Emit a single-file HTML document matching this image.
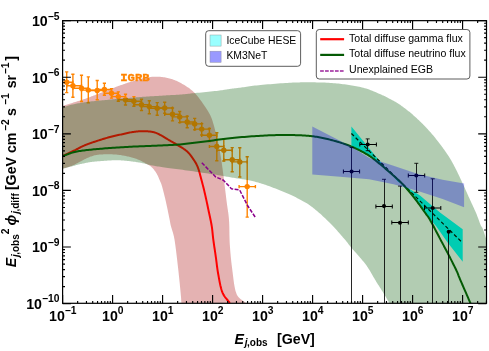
<!DOCTYPE html>
<html><head><meta charset="utf-8"><title>Diffuse flux</title>
<style>html,body{margin:0;padding:0;background:#fff;}svg{display:block;will-change:transform;}</style></head>
<body>
<svg width="489" height="351" viewBox="0 0 489 351">
<rect width="489" height="351" fill="#fff"/>
<defs><clipPath id="c"><rect x="62.6" y="20.65" width="423.9" height="282.65000000000003"/></clipPath></defs>
<g clip-path="url(#c)">
<path d="M62.40,106.00 L63.22,105.74 L64.02,105.49 L64.82,105.24 L65.61,105.00 L66.41,104.75 L67.21,104.50 L68.01,104.25 L68.83,103.99 L69.66,103.73 L70.52,103.46 L71.39,103.19 L72.30,102.90 L73.24,102.61 L74.20,102.30 L75.19,102.00 L76.19,101.69 L77.22,101.37 L78.25,101.04 L79.29,100.72 L80.34,100.38 L81.39,100.04 L82.43,99.70 L83.47,99.35 L84.50,99.00 L85.52,98.64 L86.55,98.28 L87.57,97.90 L88.60,97.53 L89.62,97.14 L90.65,96.76 L91.68,96.37 L92.70,95.97 L93.73,95.58 L94.75,95.19 L95.78,94.79 L96.80,94.40 L97.82,94.01 L98.84,93.61 L99.85,93.21 L100.87,92.81 L101.89,92.40 L102.90,92.00 L103.91,91.60 L104.93,91.19 L105.95,90.79 L106.96,90.39 L107.98,89.99 L109.00,89.60 L110.02,89.21 L111.04,88.82 L112.07,88.42 L113.09,88.03 L114.12,87.64 L115.14,87.26 L116.17,86.87 L117.20,86.49 L118.22,86.11 L119.25,85.74 L120.27,85.37 L121.30,85.00 L122.33,84.64 L123.36,84.28 L124.40,83.92 L125.43,83.56 L126.47,83.21 L127.51,82.86 L128.54,82.51 L129.57,82.17 L130.59,81.84 L131.60,81.52 L132.61,81.21 L133.60,80.90 L134.58,80.60 L135.55,80.30 L136.50,80.01 L137.44,79.72 L138.38,79.44 L139.32,79.16 L140.25,78.90 L141.19,78.65 L142.13,78.41 L143.08,78.19 L144.03,77.99 L145.00,77.80 L145.98,77.63 L146.96,77.47 L147.95,77.32 L148.94,77.18 L149.93,77.06 L150.93,76.95 L151.93,76.86 L152.94,76.79 L153.95,76.73 L154.96,76.70 L155.98,76.69 L157.00,76.70 L158.03,76.73 L159.06,76.78 L160.11,76.85 L161.16,76.94 L162.21,77.05 L163.26,77.18 L164.32,77.32 L165.37,77.49 L166.41,77.68 L167.45,77.90 L168.48,78.14 L169.50,78.40 L170.51,78.68 L171.50,78.99 L172.49,79.31 L173.47,79.66 L174.44,80.03 L175.41,80.42 L176.38,80.83 L177.36,81.27 L178.33,81.74 L179.31,82.23 L180.30,82.75 L181.30,83.30 L182.32,83.88 L183.35,84.48 L184.40,85.10 L185.46,85.76 L186.52,86.43 L187.58,87.14 L188.63,87.87 L189.67,88.62 L190.69,89.40 L191.69,90.21 L192.66,91.04 L193.60,91.90 L194.51,92.80 L195.41,93.74 L196.28,94.72 L197.14,95.73 L197.98,96.77 L198.81,97.83 L199.61,98.89 L200.40,99.97 L201.18,101.05 L201.93,102.11 L202.68,103.17 L203.40,104.20 L204.11,105.21 L204.80,106.21 L205.48,107.20 L206.15,108.18 L206.80,109.16 L207.43,110.14 L208.04,111.14 L208.63,112.14 L209.20,113.17 L209.76,114.22 L210.29,115.29 L210.80,116.40 L211.29,117.56 L211.76,118.79 L212.20,120.06 L212.63,121.36 L213.04,122.69 L213.43,124.01 L213.80,125.33 L214.15,126.61 L214.48,127.86 L214.80,129.05 L215.11,130.17 L215.40,131.20 L215.67,132.14 L215.91,133.00 L216.12,133.79 L216.32,134.53 L216.50,135.23 L216.66,135.90 L216.82,136.55 L216.97,137.20 L217.12,137.86 L217.27,138.53 L217.43,139.24 L217.60,140.00 L217.77,140.78 L217.94,141.57 L218.11,142.37 L218.28,143.17 L218.45,143.98 L218.61,144.80 L218.78,145.63 L218.94,146.47 L219.10,147.33 L219.27,148.20 L219.43,149.09 L219.60,150.00 L219.77,150.92 L219.93,151.85 L220.10,152.79 L220.27,153.75 L220.43,154.72 L220.60,155.70 L220.77,156.70 L220.93,157.72 L221.10,158.76 L221.27,159.81 L221.43,160.90 L221.60,162.00 L221.76,163.10 L221.92,164.19 L222.08,165.28 L222.23,166.37 L222.38,167.48 L222.54,168.62 L222.70,169.80 L222.86,171.04 L223.03,172.35 L223.21,173.74 L223.40,175.22 L223.60,176.80 L223.82,178.52 L224.05,180.39 L224.29,182.38 L224.55,184.46 L224.81,186.61 L225.08,188.81 L225.34,191.01 L225.61,193.20 L225.87,195.36 L226.12,197.44 L226.37,199.43 L226.60,201.30 L226.83,203.04 L227.05,204.69 L227.28,206.25 L227.50,207.75 L227.72,209.21 L227.94,210.65 L228.14,212.09 L228.34,213.55 L228.53,215.05 L228.70,216.61 L228.86,218.26 L229.00,220.00 L229.12,221.84 L229.21,223.75 L229.28,225.71 L229.33,227.73 L229.37,229.79 L229.40,231.88 L229.43,233.99 L229.47,236.11 L229.53,238.23 L229.59,240.34 L229.68,242.44 L229.80,244.50 L229.94,246.55 L230.09,248.60 L230.25,250.65 L230.41,252.70 L230.60,254.75 L230.79,256.80 L230.99,258.85 L231.21,260.90 L231.44,262.95 L231.68,265.00 L231.93,267.05 L232.20,269.10 L232.47,271.19 L232.74,273.36 L233.00,275.59 L233.28,277.83 L233.56,280.08 L233.87,282.30 L234.20,284.47 L234.56,286.56 L234.95,288.54 L235.38,290.39 L235.87,292.09 L236.40,293.60 L237.00,294.91 L237.65,296.04 L238.37,297.01 L239.12,297.85 L239.91,298.59 L240.73,299.24 L241.57,299.85 L242.41,300.43 L243.26,301.00 L244.09,301.61 L244.91,302.26 L245.70,303.00 L181.40,303.00 L181.35,302.26 L181.30,301.61 L181.27,301.00 L181.23,300.43 L181.20,299.85 L181.16,299.24 L181.12,298.59 L181.07,297.85 L181.00,297.01 L180.92,296.04 L180.82,294.91 L180.70,293.60 L180.56,292.10 L180.40,290.45 L180.23,288.65 L180.04,286.74 L179.85,284.72 L179.64,282.61 L179.42,280.43 L179.19,278.20 L178.95,275.93 L178.71,273.65 L178.46,271.36 L178.20,269.10 L177.93,266.77 L177.65,264.29 L177.36,261.70 L177.05,259.05 L176.74,256.36 L176.42,253.67 L176.10,251.02 L175.77,248.44 L175.45,245.97 L175.12,243.65 L174.81,241.52 L174.50,239.60 L174.19,237.89 L173.87,236.34 L173.54,234.94 L173.21,233.66 L172.89,232.50 L172.56,231.43 L172.25,230.43 L171.94,229.49 L171.65,228.60 L171.38,227.73 L171.13,226.87 L170.90,226.00 L170.71,225.19 L170.55,224.51 L170.43,223.92 L170.32,223.41 L170.23,222.93 L170.15,222.48 L170.07,222.00 L169.98,221.49 L169.87,220.91 L169.75,220.24 L169.59,219.45 L169.40,218.50 L169.17,217.40 L168.92,216.17 L168.65,214.82 L168.36,213.39 L168.05,211.89 L167.74,210.35 L167.41,208.78 L167.09,207.21 L166.76,205.65 L166.43,204.13 L166.11,202.68 L165.80,201.30 L165.49,199.96 L165.17,198.60 L164.84,197.24 L164.51,195.88 L164.18,194.54 L163.86,193.23 L163.53,191.96 L163.22,190.74 L162.91,189.58 L162.63,188.50 L162.35,187.50 L162.10,186.60 L161.87,185.82 L161.68,185.16 L161.50,184.60 L161.35,184.13 L161.20,183.71 L161.06,183.34 L160.92,183.00 L160.77,182.65 L160.61,182.29 L160.44,181.89 L160.23,181.43 L160.00,180.90 L159.74,180.30 L159.47,179.65 L159.18,178.98 L158.88,178.27 L158.56,177.55 L158.24,176.82 L157.90,176.09 L157.56,175.37 L157.20,174.66 L156.84,173.97 L156.47,173.32 L156.10,172.70 L155.72,172.11 L155.32,171.53 L154.91,170.96 L154.49,170.40 L154.06,169.86 L153.63,169.33 L153.19,168.82 L152.74,168.33 L152.30,167.86 L151.86,167.42 L151.43,167.00 L151.00,166.60 L150.58,166.24 L150.19,165.92 L149.80,165.64 L149.41,165.38 L149.03,165.15 L148.64,164.93 L148.24,164.71 L147.83,164.50 L147.39,164.28 L146.93,164.04 L146.43,163.78 L145.90,163.50 L145.33,163.19 L144.74,162.86 L144.11,162.52 L143.47,162.17 L142.80,161.81 L142.12,161.44 L141.42,161.08 L140.70,160.72 L139.96,160.37 L139.22,160.03 L138.46,159.71 L137.70,159.40 L136.92,159.11 L136.12,158.82 L135.29,158.54 L134.45,158.27 L133.59,158.01 L132.72,157.75 L131.85,157.50 L130.97,157.26 L130.10,157.03 L129.22,156.81 L128.36,156.60 L127.50,156.40 L126.65,156.21 L125.80,156.03 L124.95,155.85 L124.10,155.69 L123.26,155.53 L122.41,155.39 L121.56,155.25 L120.71,155.12 L119.86,155.00 L119.01,154.89 L118.15,154.79 L117.30,154.70 L116.44,154.62 L115.59,154.55 L114.73,154.49 L113.87,154.43 L113.01,154.39 L112.15,154.36 L111.29,154.33 L110.43,154.31 L109.57,154.30 L108.71,154.29 L107.86,154.29 L107.00,154.30 L106.14,154.31 L105.27,154.32 L104.40,154.34 L103.52,154.36 L102.64,154.38 L101.77,154.42 L100.90,154.46 L100.05,154.52 L99.21,154.59 L98.38,154.68 L97.58,154.78 L96.80,154.90 L96.05,155.04 L95.32,155.19 L94.61,155.35 L93.92,155.53 L93.24,155.73 L92.57,155.93 L91.92,156.15 L91.26,156.38 L90.60,156.62 L89.94,156.87 L89.28,157.13 L88.60,157.40 L87.92,157.69 L87.23,157.99 L86.55,158.31 L85.86,158.65 L85.18,158.99 L84.49,159.35 L83.81,159.71 L83.13,160.07 L82.44,160.44 L81.76,160.80 L81.08,161.15 L80.40,161.50 L79.73,161.84 L79.07,162.19 L78.41,162.55 L77.76,162.90 L77.11,163.25 L76.46,163.61 L75.80,163.96 L75.13,164.30 L74.45,164.64 L73.75,164.97 L73.04,165.29 L72.30,165.60 L71.54,165.90 L70.75,166.19 L69.95,166.46 L69.13,166.73 L68.30,167.00 L67.46,167.26 L66.62,167.51 L65.77,167.77 L64.92,168.02 L64.07,168.28 L63.23,168.54 L62.40,168.80Z" fill="#b22222" fill-opacity="0.35"/>
<path d="M62.40,156.20 L63.43,155.71 L64.48,155.21 L65.53,154.70 L66.59,154.20 L67.65,153.69 L68.71,153.19 L69.75,152.69 L70.79,152.19 L71.80,151.70 L72.79,151.23 L73.76,150.76 L74.70,150.30 L75.60,149.86 L76.45,149.42 L77.27,148.99 L78.06,148.57 L78.83,148.16 L79.60,147.76 L80.37,147.36 L81.14,146.96 L81.93,146.57 L82.75,146.18 L83.60,145.79 L84.50,145.40 L85.44,145.01 L86.41,144.63 L87.40,144.25 L88.42,143.87 L89.45,143.50 L90.50,143.12 L91.56,142.76 L92.61,142.40 L93.67,142.04 L94.73,141.69 L95.77,141.34 L96.80,141.00 L97.82,140.66 L98.84,140.33 L99.85,140.01 L100.87,139.69 L101.89,139.37 L102.90,139.06 L103.91,138.75 L104.93,138.45 L105.95,138.15 L106.96,137.86 L107.98,137.58 L109.00,137.30 L110.02,137.03 L111.04,136.77 L112.07,136.51 L113.09,136.26 L114.12,136.01 L115.14,135.78 L116.17,135.54 L117.20,135.31 L118.22,135.08 L119.25,134.85 L120.27,134.63 L121.30,134.40 L122.33,134.17 L123.38,133.94 L124.43,133.70 L125.49,133.47 L126.55,133.24 L127.61,133.01 L128.65,132.79 L129.69,132.59 L130.70,132.39 L131.69,132.21 L132.66,132.04 L133.60,131.90 L134.50,131.77 L135.38,131.66 L136.22,131.56 L137.05,131.47 L137.86,131.40 L138.65,131.34 L139.44,131.29 L140.22,131.25 L141.00,131.22 L141.79,131.20 L142.59,131.20 L143.40,131.20 L144.23,131.21 L145.07,131.23 L145.93,131.26 L146.79,131.30 L147.65,131.36 L148.51,131.42 L149.35,131.50 L150.19,131.59 L151.01,131.69 L151.80,131.81 L152.57,131.95 L153.30,132.10 L154.00,132.27 L154.67,132.46 L155.31,132.67 L155.92,132.89 L156.52,133.13 L157.11,133.38 L157.68,133.64 L158.26,133.92 L158.83,134.20 L159.41,134.49 L160.00,134.79 L160.60,135.10 L161.21,135.42 L161.81,135.74 L162.41,136.09 L163.01,136.44 L163.61,136.80 L164.21,137.17 L164.81,137.55 L165.43,137.93 L166.05,138.32 L166.68,138.71 L167.33,139.10 L168.00,139.50 L168.68,139.90 L169.37,140.29 L170.08,140.70 L170.79,141.10 L171.52,141.51 L172.25,141.92 L172.99,142.35 L173.74,142.78 L174.50,143.22 L175.26,143.67 L176.03,144.13 L176.80,144.60 L177.59,145.08 L178.42,145.58 L179.26,146.09 L180.13,146.60 L180.99,147.12 L181.86,147.66 L182.72,148.20 L183.56,148.74 L184.38,149.30 L185.16,149.86 L185.91,150.43 L186.60,151.00 L187.25,151.58 L187.86,152.16 L188.43,152.75 L188.98,153.35 L189.50,153.95 L190.01,154.56 L190.49,155.18 L190.96,155.81 L191.43,156.44 L191.88,157.09 L192.34,157.74 L192.80,158.40 L193.26,159.06 L193.71,159.72 L194.15,160.38 L194.58,161.04 L195.00,161.71 L195.41,162.39 L195.82,163.09 L196.21,163.81 L196.60,164.56 L196.97,165.34 L197.34,166.15 L197.70,167.00 L198.05,167.89 L198.37,168.81 L198.69,169.76 L198.99,170.74 L199.29,171.74 L199.57,172.77 L199.86,173.82 L200.14,174.89 L200.42,175.97 L200.71,177.07 L201.00,178.18 L201.30,179.30 L201.60,180.43 L201.91,181.58 L202.22,182.75 L202.53,183.93 L202.83,185.13 L203.14,186.34 L203.45,187.58 L203.76,188.83 L204.07,190.09 L204.38,191.38 L204.69,192.68 L205.00,194.00 L205.31,195.35 L205.62,196.75 L205.94,198.18 L206.26,199.64 L206.58,201.12 L206.89,202.60 L207.21,204.08 L207.52,205.56 L207.82,207.02 L208.12,208.45 L208.42,209.85 L208.70,211.20 L208.98,212.52 L209.26,213.81 L209.53,215.07 L209.80,216.32 L210.07,217.55 L210.33,218.77 L210.58,219.97 L210.83,221.17 L211.06,222.35 L211.29,223.54 L211.50,224.72 L211.70,225.90 L211.88,227.07 L212.04,228.20 L212.18,229.31 L212.30,230.41 L212.42,231.50 L212.53,232.59 L212.64,233.69 L212.75,234.81 L212.87,235.95 L213.00,237.13 L213.14,238.34 L213.30,239.60 L213.48,240.91 L213.67,242.26 L213.86,243.65 L214.07,245.07 L214.28,246.52 L214.50,247.98 L214.72,249.46 L214.94,250.94 L215.16,252.42 L215.38,253.89 L215.59,255.36 L215.80,256.80 L216.00,258.23 L216.18,259.65 L216.36,261.07 L216.54,262.49 L216.72,263.91 L216.89,265.33 L217.08,266.75 L217.27,268.18 L217.48,269.62 L217.70,271.06 L217.94,272.52 L218.20,274.00 L218.48,275.52 L218.76,277.09 L219.05,278.70 L219.35,280.33 L219.66,281.98 L219.99,283.61 L220.33,285.23 L220.70,286.80 L221.08,288.32 L221.49,289.77 L221.93,291.14 L222.40,292.40 L222.90,293.56 L223.45,294.62 L224.03,295.60 L224.63,296.51 L225.26,297.37 L225.90,298.19 L226.55,298.98 L227.21,299.76 L227.88,300.53 L228.53,301.32 L229.17,302.14 L229.80,303.00" fill="none" stroke="#ff0000" stroke-width="2" stroke-linejoin="round"/>
<g stroke="#ff8400" stroke-width="1.4" fill="#ff8400">
<path d="M66.7,71.9V92.6M65.1,71.9h3.2M65.1,92.6h3.2M60.5,82.2H72.9M60.5,80.6v3.2M72.9,80.6v3.2" fill="none"/>
<circle cx="66.7" cy="82.2" r="2.7" stroke="none"/>
<path d="M72.9,74.3V97.2M71.3,74.3h3.2M71.3,97.2h3.2M66.7,85.8H81.5M66.7,84.2v3.2M81.5,84.2v3.2" fill="none"/>
<circle cx="72.9" cy="85.8" r="2.7" stroke="none"/>
<path d="M81.5,75.2V101.5M79.9,75.2h3.2M79.9,101.5h3.2M72.9,88.3H88.3M72.9,86.7v3.2M88.3,86.7v3.2" fill="none"/>
<circle cx="81.5" cy="88.3" r="2.7" stroke="none"/>
<path d="M88.3,76.9V102.9M86.7,76.9h3.2M86.7,102.9h3.2M81.5,90.1H97.2M81.5,88.5v3.2M97.2,88.5v3.2" fill="none"/>
<circle cx="88.3" cy="90.1" r="2.7" stroke="none"/>
<path d="M97.2,80.5V99.8M95.6,80.5h3.2M95.6,99.8h3.2M88.3,90.5H104.4M88.3,88.9v3.2M104.4,88.9v3.2" fill="none"/>
<circle cx="97.2" cy="90.5" r="2.7" stroke="none"/>
<path d="M104.4,83.3V95.2M102.8,83.3h3.2M102.8,95.2h3.2M97.2,89.5H111.5M97.2,87.9v3.2M111.5,87.9v3.2" fill="none"/>
<circle cx="104.4" cy="89.5" r="2.7" stroke="none"/>
<path d="M111.5,88.6V98.1M109.9,88.6h3.2M109.9,98.1h3.2M104.4,93.3H118.3M104.4,91.7v3.2M118.3,91.7v3.2" fill="none"/>
<circle cx="111.5" cy="93.3" r="2.7" stroke="none"/>
<path d="M118.3,91.9V101.2M116.7,91.9h3.2M116.7,101.2h3.2M111.5,96.6H125.5M111.5,95.0v3.2M125.5,95.0v3.2" fill="none"/>
<circle cx="118.3" cy="96.6" r="2.7" stroke="none"/>
<path d="M125.5,94.2V105.0M123.9,94.2h3.2M123.9,105.0h3.2M118.3,99.8H133.9M118.3,98.2v3.2M133.9,98.2v3.2" fill="none"/>
<circle cx="125.5" cy="99.8" r="2.7" stroke="none"/>
<path d="M133.9,96.6V106.2M132.3,96.6h3.2M132.3,106.2h3.2M125.5,101.2H141.5M125.5,99.6v3.2M141.5,99.6v3.2" fill="none"/>
<circle cx="133.9" cy="101.2" r="2.7" stroke="none"/>
<path d="M141.5,99.3V110.5M139.9,99.3h3.2M139.9,110.5h3.2M133.9,104.8H149.3M133.9,103.2v3.2M149.3,103.2v3.2" fill="none"/>
<circle cx="141.5" cy="104.8" r="2.7" stroke="none"/>
<path d="M149.3,100.7V113.8M147.7,100.7h3.2M147.7,113.8h3.2M141.5,106.6H157.2M141.5,105.0v3.2M157.2,105.0v3.2" fill="none"/>
<circle cx="149.3" cy="106.6" r="2.7" stroke="none"/>
<path d="M157.2,102.6V115.2M155.6,102.6h3.2M155.6,115.2h3.2M149.3,108.3H164.7M149.3,106.7v3.2M164.7,106.7v3.2" fill="none"/>
<circle cx="157.2" cy="108.3" r="2.7" stroke="none"/>
<path d="M164.7,102.3V113.3M163.1,102.3h3.2M163.1,113.3h3.2M157.2,108.0H172.5M157.2,106.4v3.2M172.5,106.4v3.2" fill="none"/>
<circle cx="164.7" cy="108.0" r="2.7" stroke="none"/>
<path d="M172.5,108.0V120.9M170.9,108.0h3.2M170.9,120.9h3.2M164.7,114.3H179.7M164.7,112.7v3.2M179.7,112.7v3.2" fill="none"/>
<circle cx="172.5" cy="114.3" r="2.7" stroke="none"/>
<path d="M179.7,111.5V122.6M178.1,111.5h3.2M178.1,122.6h3.2M172.5,116.9H187.2M172.5,115.3v3.2M187.2,115.3v3.2" fill="none"/>
<circle cx="179.7" cy="116.9" r="2.7" stroke="none"/>
<path d="M187.2,116.2V127.7M185.6,116.2h3.2M185.6,127.7h3.2M179.7,122.0H194.7M179.7,120.4v3.2M194.7,120.4v3.2" fill="none"/>
<circle cx="187.2" cy="122.0" r="2.7" stroke="none"/>
<path d="M194.7,118.4V129.8M193.1,118.4h3.2M193.1,129.8h3.2M187.2,123.9H201.7M187.2,122.3v3.2M201.7,122.3v3.2" fill="none"/>
<circle cx="194.7" cy="123.9" r="2.7" stroke="none"/>
<path d="M201.7,123.6V135.0M200.1,123.6h3.2M200.1,135.0h3.2M194.7,129.1H209.4M194.7,127.5v3.2M209.4,127.5v3.2" fill="none"/>
<circle cx="201.7" cy="129.1" r="2.7" stroke="none"/>
<path d="M209.4,128.5V141.5M207.8,128.5h3.2M207.8,141.5h3.2M201.7,135.3H216.8M201.7,133.7v3.2M216.8,133.7v3.2" fill="none"/>
<circle cx="209.4" cy="135.3" r="2.7" stroke="none"/>
<path d="M216.8,132.8V160.8M215.2,132.8h3.2M215.2,160.8h3.2M209.4,146.5H223.8M209.4,144.9v3.2M223.8,144.9v3.2" fill="none"/>
<circle cx="216.8" cy="146.5" r="2.7" stroke="none"/>
<path d="M223.8,139.3V161.0M222.2,139.3h3.2M222.2,161.0h3.2M216.8,150.3H232.2M216.8,148.7v3.2M232.2,148.7v3.2" fill="none"/>
<circle cx="223.8" cy="150.3" r="2.7" stroke="none"/>
<path d="M232.2,147.6V171.7M230.6,147.6h3.2M230.6,171.7h3.2M223.8,159.8H239.8M223.8,158.2v3.2M239.8,158.2v3.2" fill="none"/>
<circle cx="232.2" cy="159.8" r="2.7" stroke="none"/>
<path d="M239.8,147.8V177.0M238.2,147.8h3.2M238.2,177.0h3.2M232.2,161.9H247.2M232.2,160.3v3.2M247.2,160.3v3.2" fill="none"/>
<circle cx="239.8" cy="161.9" r="2.7" stroke="none"/>
<path d="M247.2,156.7V217.1M245.6,156.7h3.2M245.6,217.1h3.2M239.1,186.6H255.4M239.1,185.0v3.2M255.4,185.0v3.2" fill="none"/>
<circle cx="247.2" cy="186.6" r="2.7" stroke="none"/>
</g>
<path d="M351.40,126.60 L377.90,158.90 L398.00,181.80 L420.00,195.60 L440.00,212.40 L462.70,229.30 L462.70,261.80 L447.60,242.60 L436.20,226.20 L425.80,214.20 L411.50,195.00 L397.50,180.00 L383.60,167.60 L369.30,156.20 L351.40,146.60Z" fill="#00ffff"/>
<path d="M351.40,133.50 L462.00,242.30" fill="none" stroke="#000" stroke-width="1.2" stroke-dasharray="3.6,2.4"/>
<path d="M62.40,107.50 L63.19,107.26 L63.97,107.01 L64.73,106.76 L65.49,106.51 L66.25,106.26 L67.02,106.01 L67.79,105.77 L68.59,105.52 L69.40,105.28 L70.23,105.05 L71.10,104.82 L72.00,104.60 L72.94,104.38 L73.92,104.17 L74.92,103.96 L75.95,103.76 L77.00,103.56 L78.07,103.36 L79.14,103.17 L80.23,102.99 L81.31,102.80 L82.38,102.63 L83.45,102.46 L84.50,102.30 L85.54,102.15 L86.59,102.00 L87.64,101.86 L88.69,101.73 L89.73,101.60 L90.78,101.47 L91.83,101.36 L92.87,101.24 L93.91,101.13 L94.95,101.02 L95.98,100.91 L97.00,100.80 L98.02,100.69 L99.04,100.59 L100.06,100.50 L101.07,100.40 L102.09,100.31 L103.09,100.23 L104.10,100.14 L105.09,100.05 L106.08,99.97 L107.06,99.88 L108.04,99.79 L109.00,99.70 L109.94,99.61 L110.86,99.52 L111.76,99.42 L112.64,99.33 L113.52,99.24 L114.40,99.14 L115.28,99.05 L116.18,98.96 L117.09,98.87 L118.03,98.78 L119.00,98.69 L120.00,98.60 L121.05,98.51 L122.15,98.43 L123.28,98.34 L124.44,98.26 L125.62,98.17 L126.81,98.09 L127.99,98.00 L129.17,97.92 L130.33,97.84 L131.46,97.76 L132.55,97.68 L133.60,97.60 L134.59,97.52 L135.54,97.44 L136.45,97.37 L137.33,97.29 L138.19,97.21 L139.04,97.14 L139.90,97.06 L140.76,96.99 L141.64,96.92 L142.55,96.84 L143.50,96.77 L144.50,96.70 L145.55,96.63 L146.65,96.56 L147.79,96.49 L148.96,96.42 L150.15,96.35 L151.35,96.29 L152.55,96.22 L153.74,96.16 L154.91,96.09 L156.05,96.03 L157.15,95.96 L158.20,95.90 L159.21,95.84 L160.18,95.78 L161.12,95.72 L162.04,95.66 L162.94,95.60 L163.82,95.54 L164.70,95.48 L165.57,95.42 L166.44,95.37 L167.32,95.31 L168.20,95.25 L169.10,95.20 L170.00,95.15 L170.89,95.10 L171.76,95.06 L172.63,95.02 L173.50,94.98 L174.38,94.94 L175.27,94.90 L176.17,94.86 L177.09,94.80 L178.03,94.75 L179.00,94.68 L180.00,94.60 L181.00,94.51 L181.98,94.43 L182.95,94.33 L183.93,94.23 L184.92,94.13 L185.94,94.02 L187.02,93.90 L188.15,93.78 L189.36,93.65 L190.67,93.51 L192.07,93.36 L193.60,93.20 L195.31,93.03 L197.21,92.84 L199.28,92.64 L201.46,92.42 L203.72,92.20 L206.01,91.98 L208.30,91.75 L210.54,91.52 L212.69,91.30 L214.71,91.09 L216.56,90.89 L218.20,90.70 L219.64,90.52 L220.93,90.35 L222.09,90.19 L223.15,90.03 L224.12,89.87 L225.01,89.72 L225.86,89.57 L226.67,89.43 L227.48,89.29 L228.29,89.16 L229.12,89.03 L230.00,88.90 L230.87,88.78 L231.67,88.68 L232.43,88.59 L233.15,88.50 L233.86,88.42 L234.57,88.34 L235.31,88.26 L236.10,88.17 L236.94,88.08 L237.86,87.97 L238.87,87.84 L240.00,87.70 L241.22,87.54 L242.49,87.36 L243.81,87.16 L245.19,86.96 L246.63,86.74 L248.13,86.52 L249.70,86.29 L251.33,86.07 L253.04,85.84 L254.82,85.62 L256.67,85.41 L258.60,85.20 L260.67,85.00 L262.90,84.79 L265.27,84.57 L267.74,84.36 L270.28,84.14 L272.86,83.93 L275.45,83.73 L278.00,83.53 L280.50,83.35 L282.90,83.18 L285.18,83.03 L287.30,82.90 L289.26,82.79 L291.10,82.69 L292.84,82.60 L294.50,82.53 L296.10,82.47 L297.66,82.42 L299.20,82.38 L300.74,82.35 L302.30,82.33 L303.90,82.31 L305.56,82.30 L307.30,82.30 L309.12,82.30 L311.00,82.31 L312.92,82.33 L314.87,82.36 L316.84,82.39 L318.82,82.43 L320.80,82.48 L322.76,82.54 L324.70,82.62 L326.59,82.70 L328.43,82.79 L330.20,82.90 L331.92,83.02 L333.59,83.15 L335.23,83.28 L336.83,83.43 L338.41,83.59 L339.96,83.76 L341.49,83.94 L343.00,84.13 L344.51,84.33 L346.01,84.55 L347.50,84.77 L349.00,85.00 L350.49,85.24 L351.96,85.47 L353.41,85.71 L354.85,85.96 L356.28,86.22 L357.70,86.49 L359.11,86.78 L360.53,87.09 L361.94,87.43 L363.35,87.79 L364.77,88.18 L366.20,88.60 L367.67,89.08 L369.19,89.61 L370.75,90.20 L372.33,90.81 L373.90,91.46 L375.46,92.11 L376.98,92.77 L378.45,93.41 L379.85,94.02 L381.15,94.60 L382.34,95.13 L383.40,95.60 L384.32,96.01 L385.11,96.37 L385.78,96.69 L386.36,96.98 L386.87,97.25 L387.32,97.49 L387.74,97.73 L388.15,97.96 L388.56,98.20 L388.99,98.45 L389.46,98.71 L390.00,99.00 L390.58,99.30 L391.17,99.61 L391.76,99.91 L392.36,100.22 L392.96,100.53 L393.57,100.85 L394.18,101.17 L394.79,101.50 L395.39,101.84 L396.00,102.18 L396.60,102.53 L397.20,102.90 L397.79,103.28 L398.39,103.66 L398.98,104.06 L399.57,104.46 L400.16,104.87 L400.75,105.29 L401.34,105.71 L401.93,106.14 L402.52,106.58 L403.11,107.01 L403.71,107.46 L404.30,107.90 L404.90,108.35 L405.50,108.80 L406.10,109.26 L406.70,109.72 L407.30,110.19 L407.90,110.66 L408.50,111.14 L409.10,111.62 L409.70,112.11 L410.30,112.60 L410.90,113.10 L411.50,113.60 L412.09,114.11 L412.69,114.62 L413.28,115.13 L413.87,115.65 L414.46,116.18 L415.05,116.71 L415.64,117.24 L416.23,117.78 L416.82,118.33 L417.41,118.88 L418.01,119.44 L418.60,120.00 L419.20,120.57 L419.80,121.15 L420.40,121.73 L421.00,122.31 L421.60,122.91 L422.20,123.51 L422.80,124.11 L423.40,124.72 L424.00,125.33 L424.60,125.95 L425.20,126.57 L425.80,127.20 L426.39,127.83 L426.99,128.46 L427.58,129.10 L428.17,129.74 L428.76,130.38 L429.35,131.03 L429.94,131.69 L430.53,132.35 L431.12,133.02 L431.71,133.71 L432.31,134.40 L432.90,135.10 L433.50,135.82 L434.12,136.57 L434.74,137.34 L435.37,138.12 L435.99,138.91 L436.62,139.70 L437.24,140.49 L437.84,141.27 L438.44,142.04 L439.01,142.79 L439.57,143.51 L440.10,144.20 L440.60,144.86 L441.08,145.49 L441.54,146.10 L441.98,146.69 L442.41,147.26 L442.83,147.82 L443.23,148.39 L443.64,148.95 L444.05,149.52 L444.46,150.09 L444.87,150.69 L445.30,151.30 L445.73,151.92 L446.16,152.54 L446.59,153.16 L447.01,153.77 L447.44,154.40 L447.87,155.03 L448.30,155.68 L448.73,156.34 L449.16,157.02 L449.60,157.72 L450.05,158.44 L450.50,159.20 L450.96,159.99 L451.43,160.81 L451.91,161.66 L452.39,162.54 L452.88,163.43 L453.36,164.34 L453.85,165.25 L454.33,166.17 L454.81,167.09 L455.28,168.01 L455.75,168.91 L456.20,169.80 L456.65,170.69 L457.09,171.59 L457.53,172.50 L457.97,173.41 L458.40,174.32 L458.83,175.23 L459.25,176.12 L459.66,177.00 L460.06,177.87 L460.46,178.71 L460.83,179.52 L461.20,180.30 L461.54,181.03 L461.86,181.70 L462.15,182.32 L462.43,182.92 L462.69,183.49 L462.96,184.06 L463.22,184.64 L463.50,185.24 L463.79,185.87 L464.09,186.55 L464.43,187.29 L464.80,188.10 L465.20,188.99 L465.63,189.93 L466.08,190.93 L466.54,191.97 L467.02,193.04 L467.51,194.14 L468.01,195.25 L468.51,196.38 L469.02,197.50 L469.52,198.62 L470.01,199.72 L470.50,200.80 L470.98,201.87 L471.48,202.94 L471.98,204.03 L472.48,205.11 L472.99,206.20 L473.49,207.28 L473.98,208.36 L474.47,209.43 L474.95,210.50 L475.42,211.55 L475.87,212.58 L476.30,213.60 L476.72,214.62 L477.13,215.67 L477.53,216.73 L477.93,217.79 L478.31,218.84 L478.68,219.87 L479.04,220.87 L479.39,221.83 L479.71,222.73 L480.03,223.57 L480.32,224.33 L480.60,225.00 L480.85,225.56 L481.07,225.99 L481.26,226.33 L481.43,226.59 L481.59,226.80 L481.74,226.98 L481.88,227.14 L482.02,227.32 L482.17,227.53 L482.33,227.80 L482.50,228.15 L482.70,228.60 L482.92,229.16 L483.16,229.81 L483.42,230.53 L483.68,231.31 L483.95,232.12 L484.22,232.95 L484.49,233.77 L484.75,234.58 L485.00,235.34 L485.22,236.04 L485.43,236.67 L485.60,237.20 L485.75,237.64 L485.87,238.00 L485.97,238.31 L486.05,238.56 L486.12,238.78 L486.18,238.96 L486.23,239.13 L486.27,239.28 L486.32,239.44 L486.37,239.60 L486.43,239.79 L486.50,240.00 L488.50,240.50 L488.50,305.30 L390.40,305.30 L389.60,303.40 L389.59,303.37 L389.60,303.40 L389.64,303.46 L389.69,303.54 L389.74,303.61 L389.77,303.67 L389.79,303.70 L389.78,303.67 L389.72,303.58 L389.61,303.40 L389.44,303.11 L389.20,302.70 L388.88,302.16 L388.49,301.50 L388.04,300.74 L387.54,299.90 L387.00,298.99 L386.43,298.02 L385.83,297.01 L385.21,295.99 L384.60,294.96 L383.98,293.94 L383.38,292.95 L382.80,292.00 L382.23,291.08 L381.66,290.17 L381.09,289.26 L380.51,288.36 L379.92,287.44 L379.33,286.52 L378.73,285.58 L378.13,284.63 L377.51,283.66 L376.88,282.67 L376.25,281.65 L375.60,280.60 L374.94,279.51 L374.27,278.36 L373.58,277.18 L372.89,275.96 L372.18,274.73 L371.47,273.49 L370.75,272.25 L370.03,271.01 L369.30,269.80 L368.57,268.63 L367.83,267.49 L367.10,266.40 L366.36,265.35 L365.59,264.32 L364.81,263.30 L364.02,262.31 L363.23,261.33 L362.44,260.38 L361.65,259.45 L360.88,258.55 L360.12,257.67 L359.38,256.82 L358.68,255.99 L358.00,255.20 L357.35,254.44 L356.72,253.72 L356.12,253.04 L355.53,252.39 L354.95,251.76 L354.39,251.15 L353.85,250.56 L353.32,249.98 L352.80,249.41 L352.29,248.84 L351.79,248.27 L351.30,247.70 L350.83,247.14 L350.41,246.61 L350.01,246.10 L349.64,245.61 L349.27,245.13 L348.91,244.65 L348.55,244.16 L348.16,243.65 L347.76,243.12 L347.32,242.56 L346.83,241.95 L346.30,241.30 L345.71,240.59 L345.09,239.84 L344.42,239.05 L343.73,238.23 L343.01,237.38 L342.28,236.52 L341.53,235.65 L340.77,234.77 L340.01,233.90 L339.26,233.04 L338.52,232.21 L337.80,231.40 L337.09,230.61 L336.39,229.84 L335.69,229.08 L334.99,228.32 L334.29,227.57 L333.59,226.82 L332.89,226.07 L332.17,225.33 L331.45,224.58 L330.72,223.82 L329.97,223.07 L329.20,222.30 L328.41,221.52 L327.61,220.73 L326.78,219.92 L325.94,219.11 L325.09,218.30 L324.24,217.49 L323.38,216.69 L322.53,215.90 L321.68,215.12 L320.84,214.35 L320.01,213.61 L319.20,212.90 L318.39,212.20 L317.58,211.51 L316.77,210.82 L315.95,210.15 L315.14,209.49 L314.34,208.84 L313.56,208.22 L312.79,207.62 L312.05,207.04 L311.33,206.50 L310.65,205.98 L310.00,205.50 L309.41,205.07 L308.89,204.70 L308.42,204.37 L307.99,204.08 L307.59,203.81 L307.19,203.56 L306.78,203.32 L306.35,203.07 L305.88,202.80 L305.36,202.51 L304.77,202.18 L304.10,201.80 L303.35,201.38 L302.55,200.93 L301.70,200.46 L300.81,199.97 L299.88,199.46 L298.92,198.94 L297.93,198.42 L296.91,197.89 L295.88,197.35 L294.83,196.83 L293.77,196.31 L292.70,195.80 L291.62,195.30 L290.50,194.79 L289.35,194.29 L288.18,193.78 L286.99,193.27 L285.78,192.76 L284.57,192.26 L283.34,191.76 L282.12,191.26 L280.90,190.77 L279.70,190.28 L278.50,189.80 L277.31,189.32 L276.12,188.85 L274.93,188.37 L273.74,187.90 L272.54,187.43 L271.35,186.97 L270.16,186.51 L268.96,186.07 L267.77,185.63 L266.58,185.21 L265.39,184.80 L264.20,184.40 L263.01,184.02 L261.80,183.64 L260.59,183.27 L259.37,182.91 L258.15,182.57 L256.94,182.23 L255.74,181.91 L254.55,181.60 L253.38,181.30 L252.23,181.02 L251.10,180.75 L250.00,180.50 L248.94,180.27 L247.91,180.07 L246.92,179.89 L245.95,179.73 L245.00,179.59 L244.06,179.45 L243.12,179.32 L242.17,179.19 L241.21,179.06 L240.24,178.92 L239.24,178.77 L238.20,178.60 L237.13,178.42 L236.02,178.24 L234.89,178.04 L233.74,177.85 L232.57,177.65 L231.41,177.45 L230.24,177.25 L229.09,177.05 L227.95,176.86 L226.83,176.66 L225.75,176.48 L224.70,176.30 L223.73,176.13 L222.87,175.98 L222.07,175.84 L221.32,175.70 L220.59,175.57 L219.84,175.44 L219.06,175.30 L218.21,175.15 L217.27,174.99 L216.20,174.82 L214.99,174.62 L213.60,174.40 L212.02,174.15 L210.28,173.88 L208.40,173.59 L206.40,173.28 L204.30,172.96 L202.14,172.63 L199.93,172.30 L197.69,171.96 L195.46,171.63 L193.25,171.31 L191.09,171.00 L189.00,170.70 L186.92,170.41 L184.80,170.13 L182.63,169.85 L180.46,169.57 L178.28,169.30 L176.12,169.03 L173.99,168.76 L171.92,168.50 L169.92,168.24 L168.00,167.99 L166.19,167.74 L164.50,167.50 L162.92,167.27 L161.43,167.04 L160.02,166.81 L158.69,166.60 L157.43,166.38 L156.23,166.17 L155.09,165.97 L154.00,165.77 L152.95,165.57 L151.94,165.38 L150.96,165.19 L150.00,165.00 L149.10,164.81 L148.29,164.63 L147.55,164.46 L146.87,164.28 L146.24,164.11 L145.63,163.94 L145.04,163.78 L144.45,163.62 L143.84,163.46 L143.21,163.30 L142.53,163.15 L141.80,163.00 L141.02,162.85 L140.22,162.70 L139.39,162.56 L138.55,162.41 L137.70,162.27 L136.83,162.14 L135.96,162.00 L135.08,161.87 L134.20,161.75 L133.33,161.63 L132.46,161.51 L131.60,161.40 L130.74,161.29 L129.89,161.19 L129.03,161.08 L128.17,160.99 L127.31,160.89 L126.45,160.80 L125.59,160.72 L124.73,160.64 L123.87,160.57 L123.01,160.50 L122.16,160.45 L121.30,160.40 L120.45,160.36 L119.59,160.33 L118.74,160.31 L117.89,160.30 L117.04,160.29 L116.19,160.29 L115.34,160.30 L114.50,160.31 L113.65,160.33 L112.80,160.35 L111.95,160.37 L111.10,160.40 L110.25,160.43 L109.40,160.47 L108.55,160.52 L107.70,160.57 L106.85,160.63 L106.00,160.69 L105.15,160.75 L104.30,160.82 L103.45,160.89 L102.60,160.96 L101.75,161.03 L100.90,161.10 L100.05,161.17 L99.20,161.24 L98.35,161.31 L97.50,161.37 L96.66,161.44 L95.81,161.52 L94.96,161.60 L94.11,161.68 L93.26,161.77 L92.41,161.87 L91.55,161.98 L90.70,162.10 L89.84,162.23 L88.96,162.37 L88.08,162.53 L87.19,162.69 L86.30,162.86 L85.42,163.03 L84.54,163.21 L83.67,163.39 L82.82,163.57 L81.99,163.75 L81.18,163.93 L80.40,164.10 L79.65,164.27 L78.94,164.44 L78.26,164.61 L77.60,164.77 L76.96,164.94 L76.33,165.11 L75.69,165.28 L75.05,165.46 L74.40,165.64 L73.73,165.82 L73.03,166.01 L72.30,166.20 L71.54,166.40 L70.75,166.60 L69.95,166.81 L69.13,167.03 L68.30,167.25 L67.46,167.47 L66.62,167.69 L65.77,167.91 L64.92,168.14 L64.07,168.36 L63.23,168.58 L62.40,168.80Z" fill="#005500" fill-opacity="0.30"/>
<path d="M62.40,156.20 L63.42,155.84 L64.42,155.48 L65.42,155.10 L66.41,154.73 L67.40,154.35 L68.40,153.97 L69.40,153.61 L70.42,153.25 L71.46,152.91 L72.51,152.58 L73.59,152.28 L74.70,152.00 L75.83,151.75 L76.95,151.51 L78.09,151.30 L79.24,151.10 L80.41,150.92 L81.59,150.74 L82.81,150.58 L84.05,150.42 L85.32,150.27 L86.64,150.11 L88.00,149.96 L89.40,149.80 L90.85,149.64 L92.33,149.49 L93.84,149.34 L95.39,149.19 L96.97,149.05 L98.58,148.91 L100.23,148.77 L101.91,148.63 L103.63,148.50 L105.39,148.37 L107.18,148.23 L109.00,148.10 L110.87,147.97 L112.81,147.83 L114.80,147.70 L116.83,147.57 L118.90,147.44 L120.99,147.31 L123.10,147.18 L125.21,147.06 L127.33,146.94 L129.44,146.82 L131.53,146.71 L133.60,146.60 L135.66,146.50 L137.73,146.41 L139.82,146.32 L141.90,146.24 L143.99,146.16 L146.07,146.08 L148.15,146.01 L150.21,145.93 L152.25,145.85 L154.26,145.77 L156.25,145.69 L158.20,145.60 L160.10,145.51 L161.96,145.43 L163.77,145.35 L165.56,145.28 L167.32,145.20 L169.07,145.12 L170.83,145.03 L172.60,144.93 L174.39,144.82 L176.21,144.70 L178.08,144.56 L180.00,144.40 L181.97,144.22 L183.98,144.02 L186.02,143.80 L188.10,143.57 L190.19,143.33 L192.30,143.08 L194.42,142.82 L196.55,142.56 L198.67,142.29 L200.80,142.03 L202.91,141.76 L205.00,141.50 L207.07,141.24 L209.12,140.96 L211.17,140.68 L213.20,140.39 L215.23,140.10 L217.28,139.81 L219.33,139.52 L221.40,139.24 L223.50,138.96 L225.63,138.70 L227.79,138.44 L230.00,138.20 L232.28,137.97 L234.62,137.74 L237.03,137.52 L239.48,137.31 L241.95,137.10 L244.43,136.90 L246.91,136.71 L249.36,136.53 L251.77,136.35 L254.12,136.19 L256.40,136.04 L258.60,135.90 L260.72,135.77 L262.80,135.66 L264.83,135.55 L266.82,135.45 L268.77,135.36 L270.68,135.29 L272.56,135.22 L274.40,135.16 L276.22,135.11 L278.00,135.06 L279.76,135.03 L281.50,135.00 L283.21,134.98 L284.89,134.97 L286.53,134.97 L288.15,134.98 L289.73,134.99 L291.29,135.02 L292.81,135.05 L294.31,135.09 L295.77,135.13 L297.21,135.18 L298.62,135.24 L300.00,135.30 L301.34,135.36 L302.63,135.43 L303.87,135.50 L305.08,135.57 L306.26,135.66 L307.41,135.74 L308.55,135.84 L309.69,135.95 L310.82,136.07 L311.97,136.20 L313.12,136.34 L314.30,136.50 L315.49,136.67 L316.68,136.86 L317.88,137.06 L319.07,137.27 L320.26,137.49 L321.45,137.72 L322.64,137.96 L323.83,138.21 L325.03,138.47 L326.22,138.74 L327.41,139.02 L328.60,139.30 L329.81,139.60 L331.05,139.92 L332.31,140.25 L333.58,140.60 L334.85,140.96 L336.11,141.33 L337.35,141.69 L338.56,142.05 L339.73,142.41 L340.85,142.75 L341.91,143.09 L342.90,143.40 L343.82,143.70 L344.66,143.98 L345.45,144.24 L346.19,144.50 L346.89,144.76 L347.56,145.01 L348.21,145.26 L348.84,145.51 L349.48,145.76 L350.13,146.03 L350.80,146.31 L351.50,146.60 L352.21,146.90 L352.93,147.21 L353.64,147.52 L354.34,147.83 L355.05,148.15 L355.76,148.47 L356.47,148.81 L357.19,149.15 L357.91,149.50 L358.63,149.85 L359.36,150.22 L360.10,150.60 L360.85,150.99 L361.62,151.39 L362.40,151.81 L363.20,152.24 L363.99,152.67 L364.79,153.11 L365.58,153.56 L366.36,154.01 L367.13,154.46 L367.88,154.91 L368.60,155.36 L369.30,155.80 L369.97,156.24 L370.62,156.68 L371.24,157.12 L371.85,157.57 L372.45,158.01 L373.03,158.46 L373.61,158.90 L374.18,159.36 L374.75,159.81 L375.33,160.27 L375.91,160.73 L376.50,161.20 L377.09,161.67 L377.69,162.15 L378.28,162.64 L378.87,163.12 L379.46,163.61 L380.05,164.11 L380.64,164.60 L381.23,165.10 L381.82,165.60 L382.41,166.10 L383.01,166.60 L383.60,167.10 L384.20,167.60 L384.80,168.11 L385.40,168.61 L386.01,169.12 L386.62,169.63 L387.23,170.14 L387.83,170.65 L388.43,171.16 L389.03,171.67 L389.63,172.18 L390.22,172.69 L390.80,173.20 L391.38,173.71 L391.95,174.21 L392.51,174.72 L393.08,175.23 L393.64,175.73 L394.19,176.24 L394.75,176.74 L395.30,177.25 L395.85,177.76 L396.40,178.27 L396.95,178.78 L397.50,179.30 L398.05,179.81 L398.58,180.31 L399.12,180.80 L399.64,181.30 L400.17,181.79 L400.70,182.29 L401.23,182.79 L401.77,183.31 L402.31,183.85 L402.86,184.41 L403.42,184.99 L404.00,185.60 L404.59,186.24 L405.20,186.90 L405.81,187.59 L406.44,188.30 L407.07,189.02 L407.71,189.76 L408.35,190.51 L408.99,191.27 L409.63,192.03 L410.26,192.79 L410.89,193.55 L411.50,194.30 L412.11,195.05 L412.71,195.81 L413.30,196.56 L413.89,197.33 L414.48,198.09 L415.07,198.86 L415.65,199.64 L416.24,200.42 L416.83,201.20 L417.42,202.00 L418.01,202.80 L418.60,203.60 L419.21,204.43 L419.83,205.28 L420.46,206.16 L421.10,207.05 L421.74,207.94 L422.38,208.84 L423.00,209.72 L423.61,210.59 L424.20,211.42 L424.77,212.23 L425.30,212.99 L425.80,213.70 L426.24,214.32 L426.61,214.82 L426.94,215.23 L427.22,215.59 L427.49,215.92 L427.75,216.26 L428.02,216.62 L428.32,217.06 L428.66,217.58 L429.06,218.22 L429.54,219.02 L430.10,220.00 L430.76,221.19 L431.52,222.57 L432.35,224.11 L433.24,225.78 L434.17,227.54 L435.13,229.36 L436.09,231.21 L437.05,233.04 L437.99,234.83 L438.89,236.54 L439.73,238.14 L440.50,239.60 L441.20,240.92 L441.86,242.14 L442.47,243.28 L443.06,244.36 L443.62,245.40 L444.16,246.41 L444.70,247.41 L445.24,248.42 L445.80,249.46 L446.37,250.54 L446.97,251.68 L447.60,252.90 L448.28,254.21 L449.00,255.61 L449.75,257.07 L450.52,258.58 L451.30,260.11 L452.08,261.65 L452.85,263.18 L453.60,264.68 L454.32,266.13 L455.00,267.51 L455.63,268.81 L456.20,270.00 L456.69,271.05 L457.09,271.94 L457.42,272.71 L457.71,273.40 L457.96,274.04 L458.21,274.67 L458.45,275.32 L458.73,276.02 L459.04,276.82 L459.41,277.74 L459.86,278.82 L460.40,280.10 L461.04,281.57 L461.74,283.21 L462.51,284.98 L463.33,286.86 L464.19,288.84 L465.08,290.88 L465.99,292.97 L466.91,295.08 L467.84,297.19 L468.75,299.28 L469.64,301.32 L470.50,303.30" fill="none" stroke="#045a04" stroke-width="2" stroke-linejoin="round"/>
<g stroke="#000" stroke-width="1.0" fill="#000">
<path d="M367.5,138.9V150.7M365.7,138.9h4M365.7,150.7h4" fill="none" stroke-width="0.85"/>
<path d="M359.8,144.5H376.4M359.8,142.5v4M376.4,142.5v4" fill="none"/>
<circle cx="367.7" cy="144.5" r="2.05" stroke="none"/>
<path d="M351.5,147.5V303.3M349.6,147.5h4" fill="none" stroke-width="0.85"/>
<path d="M343.4,171.5H359.6M343.4,169.5v4M359.6,169.5v4" fill="none"/>
<circle cx="351.6" cy="171.5" r="2.05" stroke="none"/>
<path d="M384.5,179.3V303.3M382.0,179.3h4" fill="none" stroke-width="0.85"/>
<path d="M375.9,206.5H392.3M375.9,204.5v4M392.3,204.5v4" fill="none"/>
<circle cx="384.0" cy="206.1" r="2.05" stroke="none"/>
<path d="M400.5,186.1V303.3M398.0,186.1h4" fill="none" stroke-width="0.85"/>
<path d="M391.8,222.5H408.3M391.8,220.5v4M408.3,220.5v4" fill="none"/>
<circle cx="400.0" cy="222.8" r="2.05" stroke="none"/>
<path d="M416.5,163.3V192.3M414.3,163.3h4M414.3,192.3h4" fill="none" stroke-width="0.85"/>
<path d="M408.3,175.5H424.7M408.3,173.5v4M424.7,173.5v4" fill="none"/>
<circle cx="416.3" cy="175.5" r="2.05" stroke="none"/>
<path d="M432.5,178.8V303.3M430.7,178.8h4" fill="none" stroke-width="0.85"/>
<path d="M424.5,208.0H440.8M424.5,206.0v4M440.8,206.0v4" fill="none"/>
<circle cx="432.7" cy="208.0" r="2.05" stroke="none"/>
<path d="M448.5,231.8V303.3" fill="none" stroke-width="0.85"/>
<circle cx="448.7" cy="231.8" r="2.05" stroke="none"/>
</g>
<path d="M312.30,126.60 L350.20,145.90 L369.00,157.70 L393.50,165.80 L418.00,173.90 L442.60,179.80 L464.10,183.60 L464.10,207.20 L442.60,198.90 L418.00,191.00 L393.50,184.20 L369.00,179.30 L340.00,176.80 L312.30,174.50Z" fill="#0000e0" fill-opacity="0.30"/>
<path d="M201.80,162.80 L215.80,177.00 L223.40,180.20 L231.60,188.90 L239.60,189.90 L247.80,206.00 L255.30,217.30" fill="none" stroke="#8b008b" stroke-width="1.5" stroke-dasharray="3.9,1.5"/>
</g>
<text transform="translate(120.2,81.4) scale(1.10,1)" style="font-family:'Liberation Mono',monospace;font-weight:bold;font-size:11.2px" fill="#ff8400" stroke="#ff8400" stroke-width="0.3">IGRB</text>
<g stroke="#000" stroke-width="1.2" fill="none">
<rect x="62.6" y="20.65" width="423.9" height="282.65000000000003"/>
<path d="M62.60,303.3v-8.3M62.60,20.65v8.3M77.65,303.3v-2.4M77.65,20.65v2.4M86.46,303.3v-2.4M86.46,20.65v2.4M92.70,303.3v-2.4M92.70,20.65v2.4M97.55,303.3v-2.4M97.55,20.65v2.4M101.51,303.3v-2.4M101.51,20.65v2.4M104.85,303.3v-2.4M104.85,20.65v2.4M107.75,303.3v-2.4M107.75,20.65v2.4M110.31,303.3v-2.4M110.31,20.65v2.4M112.60,303.3v-8.3M112.60,20.65v8.3M127.65,303.3v-2.4M127.65,20.65v2.4M136.46,303.3v-2.4M136.46,20.65v2.4M142.70,303.3v-2.4M142.70,20.65v2.4M147.55,303.3v-2.4M147.55,20.65v2.4M151.51,303.3v-2.4M151.51,20.65v2.4M154.85,303.3v-2.4M154.85,20.65v2.4M157.75,303.3v-2.4M157.75,20.65v2.4M160.31,303.3v-2.4M160.31,20.65v2.4M162.60,303.3v-8.3M162.60,20.65v8.3M177.65,303.3v-2.4M177.65,20.65v2.4M186.46,303.3v-2.4M186.46,20.65v2.4M192.70,303.3v-2.4M192.70,20.65v2.4M197.55,303.3v-2.4M197.55,20.65v2.4M201.51,303.3v-2.4M201.51,20.65v2.4M204.85,303.3v-2.4M204.85,20.65v2.4M207.75,303.3v-2.4M207.75,20.65v2.4M210.31,303.3v-2.4M210.31,20.65v2.4M212.60,303.3v-8.3M212.60,20.65v8.3M227.65,303.3v-2.4M227.65,20.65v2.4M236.46,303.3v-2.4M236.46,20.65v2.4M242.70,303.3v-2.4M242.70,20.65v2.4M247.55,303.3v-2.4M247.55,20.65v2.4M251.51,303.3v-2.4M251.51,20.65v2.4M254.85,303.3v-2.4M254.85,20.65v2.4M257.75,303.3v-2.4M257.75,20.65v2.4M260.31,303.3v-2.4M260.31,20.65v2.4M262.60,303.3v-8.3M262.60,20.65v8.3M277.65,303.3v-2.4M277.65,20.65v2.4M286.46,303.3v-2.4M286.46,20.65v2.4M292.70,303.3v-2.4M292.70,20.65v2.4M297.55,303.3v-2.4M297.55,20.65v2.4M301.51,303.3v-2.4M301.51,20.65v2.4M304.85,303.3v-2.4M304.85,20.65v2.4M307.75,303.3v-2.4M307.75,20.65v2.4M310.31,303.3v-2.4M310.31,20.65v2.4M312.60,303.3v-8.3M312.60,20.65v8.3M327.65,303.3v-2.4M327.65,20.65v2.4M336.46,303.3v-2.4M336.46,20.65v2.4M342.70,303.3v-2.4M342.70,20.65v2.4M347.55,303.3v-2.4M347.55,20.65v2.4M351.51,303.3v-2.4M351.51,20.65v2.4M354.85,303.3v-2.4M354.85,20.65v2.4M357.75,303.3v-2.4M357.75,20.65v2.4M360.31,303.3v-2.4M360.31,20.65v2.4M362.60,303.3v-8.3M362.60,20.65v8.3M377.65,303.3v-2.4M377.65,20.65v2.4M386.46,303.3v-2.4M386.46,20.65v2.4M392.70,303.3v-2.4M392.70,20.65v2.4M397.55,303.3v-2.4M397.55,20.65v2.4M401.51,303.3v-2.4M401.51,20.65v2.4M404.85,303.3v-2.4M404.85,20.65v2.4M407.75,303.3v-2.4M407.75,20.65v2.4M410.31,303.3v-2.4M410.31,20.65v2.4M412.60,303.3v-8.3M412.60,20.65v8.3M427.65,303.3v-2.4M427.65,20.65v2.4M436.46,303.3v-2.4M436.46,20.65v2.4M442.70,303.3v-2.4M442.70,20.65v2.4M447.55,303.3v-2.4M447.55,20.65v2.4M451.51,303.3v-2.4M451.51,20.65v2.4M454.85,303.3v-2.4M454.85,20.65v2.4M457.75,303.3v-2.4M457.75,20.65v2.4M460.31,303.3v-2.4M460.31,20.65v2.4M462.60,303.3v-8.3M462.60,20.65v8.3M477.65,303.3v-2.4M477.65,20.65v2.4M486.46,303.3v-2.4M486.46,20.65v2.4M62.6,303.63h8.3M486.5,303.63h-8.3M62.6,286.59h2.4M486.5,286.59h-2.4M62.6,276.62h2.4M486.5,276.62h-2.4M62.6,269.55h2.4M486.5,269.55h-2.4M62.6,264.07h2.4M486.5,264.07h-2.4M62.6,259.59h2.4M486.5,259.59h-2.4M62.6,255.80h2.4M486.5,255.80h-2.4M62.6,252.52h2.4M486.5,252.52h-2.4M62.6,249.62h2.4M486.5,249.62h-2.4M62.6,247.03h8.3M486.5,247.03h-8.3M62.6,229.99h2.4M486.5,229.99h-2.4M62.6,220.02h2.4M486.5,220.02h-2.4M62.6,212.95h2.4M486.5,212.95h-2.4M62.6,207.47h2.4M486.5,207.47h-2.4M62.6,202.99h2.4M486.5,202.99h-2.4M62.6,199.20h2.4M486.5,199.20h-2.4M62.6,195.92h2.4M486.5,195.92h-2.4M62.6,193.02h2.4M486.5,193.02h-2.4M62.6,190.43h8.3M486.5,190.43h-8.3M62.6,173.39h2.4M486.5,173.39h-2.4M62.6,163.42h2.4M486.5,163.42h-2.4M62.6,156.35h2.4M486.5,156.35h-2.4M62.6,150.87h2.4M486.5,150.87h-2.4M62.6,146.39h2.4M486.5,146.39h-2.4M62.6,142.60h2.4M486.5,142.60h-2.4M62.6,139.32h2.4M486.5,139.32h-2.4M62.6,136.42h2.4M486.5,136.42h-2.4M62.6,133.83h8.3M486.5,133.83h-8.3M62.6,116.79h2.4M486.5,116.79h-2.4M62.6,106.82h2.4M486.5,106.82h-2.4M62.6,99.75h2.4M486.5,99.75h-2.4M62.6,94.27h2.4M486.5,94.27h-2.4M62.6,89.79h2.4M486.5,89.79h-2.4M62.6,86.00h2.4M486.5,86.00h-2.4M62.6,82.72h2.4M486.5,82.72h-2.4M62.6,79.82h2.4M486.5,79.82h-2.4M62.6,77.23h8.3M486.5,77.23h-8.3M62.6,60.19h2.4M486.5,60.19h-2.4M62.6,50.22h2.4M486.5,50.22h-2.4M62.6,43.15h2.4M486.5,43.15h-2.4M62.6,37.67h2.4M486.5,37.67h-2.4M62.6,33.19h2.4M486.5,33.19h-2.4M62.6,29.40h2.4M486.5,29.40h-2.4M62.6,26.12h2.4M486.5,26.12h-2.4M62.6,23.22h2.4M486.5,23.22h-2.4M62.6,20.63h8.3M486.5,20.63h-8.3" stroke-width="1.15"/>
</g>
<g font-family="'Liberation Sans', sans-serif" font-weight="bold" fill="#000">
<text x="49.03" y="320.80" font-size="14.2">10</text>
<text x="64.72" y="314.20" font-size="10.3">−1</text>
<text x="102.04" y="320.80" font-size="14.2">10</text>
<text x="117.73" y="314.20" font-size="10.3">0</text>
<text x="152.04" y="320.80" font-size="14.2">10</text>
<text x="167.73" y="314.20" font-size="10.3">1</text>
<text x="202.04" y="320.80" font-size="14.2">10</text>
<text x="217.73" y="314.20" font-size="10.3">2</text>
<text x="252.04" y="320.80" font-size="14.2">10</text>
<text x="267.73" y="314.20" font-size="10.3">3</text>
<text x="302.04" y="320.80" font-size="14.2">10</text>
<text x="317.73" y="314.20" font-size="10.3">4</text>
<text x="352.04" y="320.80" font-size="14.2">10</text>
<text x="367.73" y="314.20" font-size="10.3">5</text>
<text x="402.04" y="320.80" font-size="14.2">10</text>
<text x="417.73" y="314.20" font-size="10.3">6</text>
<text x="452.04" y="320.80" font-size="14.2">10</text>
<text x="467.73" y="314.20" font-size="10.3">7</text>
<text x="26.24" y="308.80" font-size="14.2">10</text>
<text x="41.93" y="302.20" font-size="10.3">−10</text>
<text x="31.97" y="252.27" font-size="14.2">10</text>
<text x="47.66" y="245.67" font-size="10.3">−9</text>
<text x="31.97" y="195.74" font-size="14.2">10</text>
<text x="47.66" y="189.14" font-size="10.3">−8</text>
<text x="31.97" y="139.21" font-size="14.2">10</text>
<text x="47.66" y="132.61" font-size="10.3">−7</text>
<text x="31.97" y="82.68" font-size="14.2">10</text>
<text x="47.66" y="76.08" font-size="10.3">−6</text>
<text x="31.97" y="26.15" font-size="14.2">10</text>
<text x="47.66" y="19.55" font-size="10.3">−5</text>
<g transform="translate(234.6,343.5)">
<text x="0.00" y="0.00" font-size="14.2" font-style="italic">E</text>
<text x="10.20" y="2.70" font-size="10.0" font-style="italic">j</text>
<text x="12.40" y="2.70" font-size="10.0">,obs</text>
<text x="42.40" y="0.00" font-size="14.2">[GeV]</text>
</g>
<g transform="translate(16.2,267.2) rotate(-90)">
<text x="0.00" y="0.00" font-size="14.2" font-style="italic">E</text>
<text x="10.20" y="2.70" font-size="10.0" font-style="italic">j</text>
<text x="12.40" y="2.70" font-size="10.0">,obs</text>
<text x="33.00" y="-7.40" font-size="10.3">2</text>
<text x="41.80" y="0.00" font-size="14.2" font-style="italic">ϕ</text>
<text x="53.40" y="2.70" font-size="10.0" font-style="italic">j</text>
<text x="55.60" y="2.70" font-size="10.0">,diff</text>
<text x="77.10" y="0.00" font-size="14.2">[GeV cm</text>
<text x="136.30" y="-7.40" font-size="10.3">−2</text>
<text x="151.30" y="0.00" font-size="14.2">s</text>
<text x="162.20" y="-7.40" font-size="10.3">−1</text>
<text x="178.90" y="0.00" font-size="14.2">sr</text>
<text x="193.00" y="-7.40" font-size="10.3">−1</text>
<text x="206.40" y="0.00" font-size="14.2">]</text>
</g>
</g>
<g font-family="'Liberation Sans', sans-serif" font-size="10.4" fill="#000">
<rect x="205.7" y="30.7" width="94.9" height="35.6" rx="3" ry="3" fill="#fff" stroke="#333" stroke-width="0.8"/>
<rect x="210.0" y="35.0" width="11.1" height="11.1" fill="#99ffff" stroke="#8fa3a3" stroke-width="0.5"/>
<rect x="210.0" y="51.2" width="11.1" height="11.1" fill="#9999ff" stroke="#8f8fa8" stroke-width="0.5"/>
<text x="226.4" y="43.7">IceCube HESE</text>
<text x="226.4" y="59.4">KM3NeT</text>
<rect x="316.3" y="29.5" width="153.6" height="49.5" rx="3" ry="3" fill="#fff" stroke="#333" stroke-width="0.8"/>
<path d="M320.2,39.2H344.1" stroke="#ff0000" stroke-width="2.2"/>
<path d="M320.2,54.9H344.1" stroke="#045a04" stroke-width="2.2"/>
<path d="M320.1,71.0H343.7" stroke="#9a209a" stroke-width="1.5" stroke-dasharray="3.7,1.25"/>
<text x="349.1" y="41.6" font-size="10.57">Total diffuse gamma flux</text>
<text x="349.1" y="57.3" font-size="10.57">Total diffuse neutrino flux</text>
<text x="349.1" y="72.9" font-size="10.57">Unexplained EGB</text>
</g>
</svg>
</body></html>
